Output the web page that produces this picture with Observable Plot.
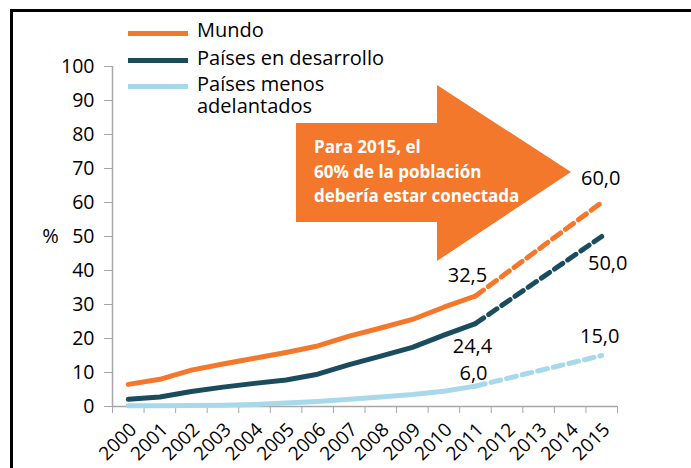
<!DOCTYPE html>
<html>
<head>
<meta charset="utf-8">
<script src="https://cdn.jsdelivr.net/npm/d3@7"></script>
<script src="https://cdn.jsdelivr.net/npm/@observablehq/plot@0.6"></script>
<style>
  html, body { margin: 0; padding: 0; background: #fff; }
  #wrap { position: relative; width: 691px; height: 468px; overflow: hidden; font-family: "Open Sans", sans-serif; }
  #border { position: absolute; left: 10px; top: 9px; right: -10px; bottom: -10px; border-left: 3px solid #000; border-top: 3px solid #000; z-index: 3; }
  #arrow { position: absolute; left: 296px; top: 85px; width: 275px; height: 176px; background: #f4782b;
           clip-path: polygon(0 38px, 141px 38px, 141px 0, 275px 87px, 141px 176px, 141px 137px, 0 137px); z-index: 0; }
  #arrowText { position: absolute; left: 314px; top: 135px; color: #fff; font-weight: 700; font-size: 17px; line-height: 24.5px; z-index: 1; white-space: nowrap; }
  #chart { position: absolute; left: 0; top: 0; z-index: 2; }
  #legend { position: absolute; left: 0; top: 0; z-index: 4; }
  .lg-line { position: absolute; left: 128px; width: 60px; height: 5px; }
  .lg-text { position: absolute; left: 197px; font-size: 20px; line-height: 22px; color: #000; white-space: nowrap; }
</style>
</head>
<body>
<div id="wrap">
  <div id="arrow"></div>
  <div id="arrowText"></div>
  <div id="chart"></div>
  <div id="legend"></div>
  <div id="border"></div>
</div>
<script>
// ---- data ----
const years = [2000, 2001, 2002, 2003, 2004, 2005, 2006, 2007, 2008, 2009, 2010, 2011];
const mundo = [6.5, 8.0, 10.7, 12.5, 14.2, 15.9, 17.8, 20.7, 23.1, 25.6, 29.2, 32.5];
const desarrollo = [2.1, 2.8, 4.4, 5.7, 6.8, 7.8, 9.5, 12.3, 14.8, 17.4, 21.0, 24.4];
const menos = [0.2, 0.2, 0.3, 0.4, 0.6, 1.0, 1.5, 2.1, 2.8, 3.5, 4.5, 6.0];
const projYears = [2011, 2015];
const mundoProj = [32.5, 60.0];
const desarrolloProj = [24.4, 50.0];
const menosProj = [6.0, 15.0];
const seriesNames = ["Mundo", "Países en desarrollo", "Países menos adelantados"];
const legendLabels = ["Mundo", "Países en desarrollo", "Países menos<br>adelantados"];
const seriesColors = ["#f4782b", "#1b4c5e", "#a8d9ea"];
const tickYears = [2000, 2001, 2002, 2003, 2004, 2005, 2006, 2007, 2008, 2009, 2010, 2011, 2012, 2013, 2014, 2015];
const yTicks = [0, 10, 20, 30, 40, 50, 60, 70, 80, 90, 100];
const arrowLines = ["Para 2015, el", "60% de la población", "debería estar conectada"];

// ---- tables ----
const histVals = [mundo, desarrollo, menos];
const projVals = [mundoProj, desarrolloProj, menosProj];
const hist = seriesNames.flatMap((s, i) => years.map((y, j) => ({series: s, year: y, value: histVals[i][j]})));
const proj = seriesNames.flatMap((s, i) => projYears.map((y, j) => ({series: s, year: y, value: projVals[i][j]})));
const edges = [...tickYears.map(y => y - 0.5), tickYears[tickYears.length - 1] + 0.5];
const fmt = v => d3.format(".1f")(v).replace(".", ",");

// label offsets (styling only)
const labelOffsets = [
  [{dx: -8, dy: -20}, {dx: -1, dy: -24}],
  [{dx: -3, dy: 23}, {dx: 6, dy: 27}],
  [{dx: -2, dy: -13}, {dx: -2, dy: -19}]
];
const labelMarks = seriesNames.flatMap((s, i) => projYears.map((y, j) =>
  Plot.text(proj.filter(d => d.series === s && d.year === y), {
    x: "year", y: "value", text: d => fmt(d.value),
    dx: labelOffsets[i][j].dx, dy: labelOffsets[i][j].dy,
    fontSize: 20, fill: "#000"
  })));

const gray = "#a6a6a6";
const chart = Plot.plot({
  width: 691, height: 468,
  marginLeft: 112, marginRight: 74, marginTop: 66, marginBottom: 62,
  style: {fontFamily: "Open Sans", fontSize: "19.5px", color: "#000", background: "transparent", overflow: "visible"},
  x: {domain: [edges[0], edges[edges.length - 1]]},
  y: {domain: [yTicks[0], yTicks[yTicks.length - 1]]},
  color: {domain: seriesNames, range: seriesColors},
  marks: [
    Plot.ruleX([edges[0]], {stroke: gray, strokeWidth: 1.5}),
    Plot.ruleY([0], {stroke: gray, strokeWidth: 1.5}),
    Plot.axisY({ticks: yTicks, tickSize: 8, tickPadding: 10, stroke: gray, fill: "#000", label: null}),
    Plot.axisX({ticks: edges, tickSize: 7, tickFormat: () => "", stroke: gray, label: null}),
    Plot.axisX({ticks: tickYears, tickSize: 0, tickPadding: 20, dx: 5, tickRotate: -45, fontSize: 19, tickFormat: d => String(d), fill: "#000", label: null}),
    Plot.line(hist, {x: "year", y: "value", stroke: "series", strokeWidth: 5, strokeLinejoin: "round", strokeLinecap: "round"}),
    Plot.line(proj, {x: "year", y: "value", stroke: "series", strokeWidth: 5, strokeDasharray: "10,6"}),
    ...labelMarks,
    Plot.text(["%"], {frameAnchor: "left", y: () => 50, dx: -62, textAnchor: "middle", fontSize: 20, fill: "#000"})
  ]
});
document.getElementById("chart").appendChild(chart);

// ---- legend ----
const legendY = [33, 60, 86];
const legendTextTop = [19, 47, 73];
const lg = document.getElementById("legend");
seriesNames.forEach((s, i) => {
  const line = document.createElement("div");
  line.className = "lg-line";
  line.style.top = (legendY[i] - 2.5) + "px";
  line.style.background = seriesColors[i];
  lg.appendChild(line);
  const t = document.createElement("div");
  t.className = "lg-text";
  t.style.top = legendTextTop[i] + "px";
  t.innerHTML = legendLabels[i];
  lg.appendChild(t);
});
document.getElementById("arrowText").innerHTML = arrowLines.join("<br>");
</script>
</body>
</html>
